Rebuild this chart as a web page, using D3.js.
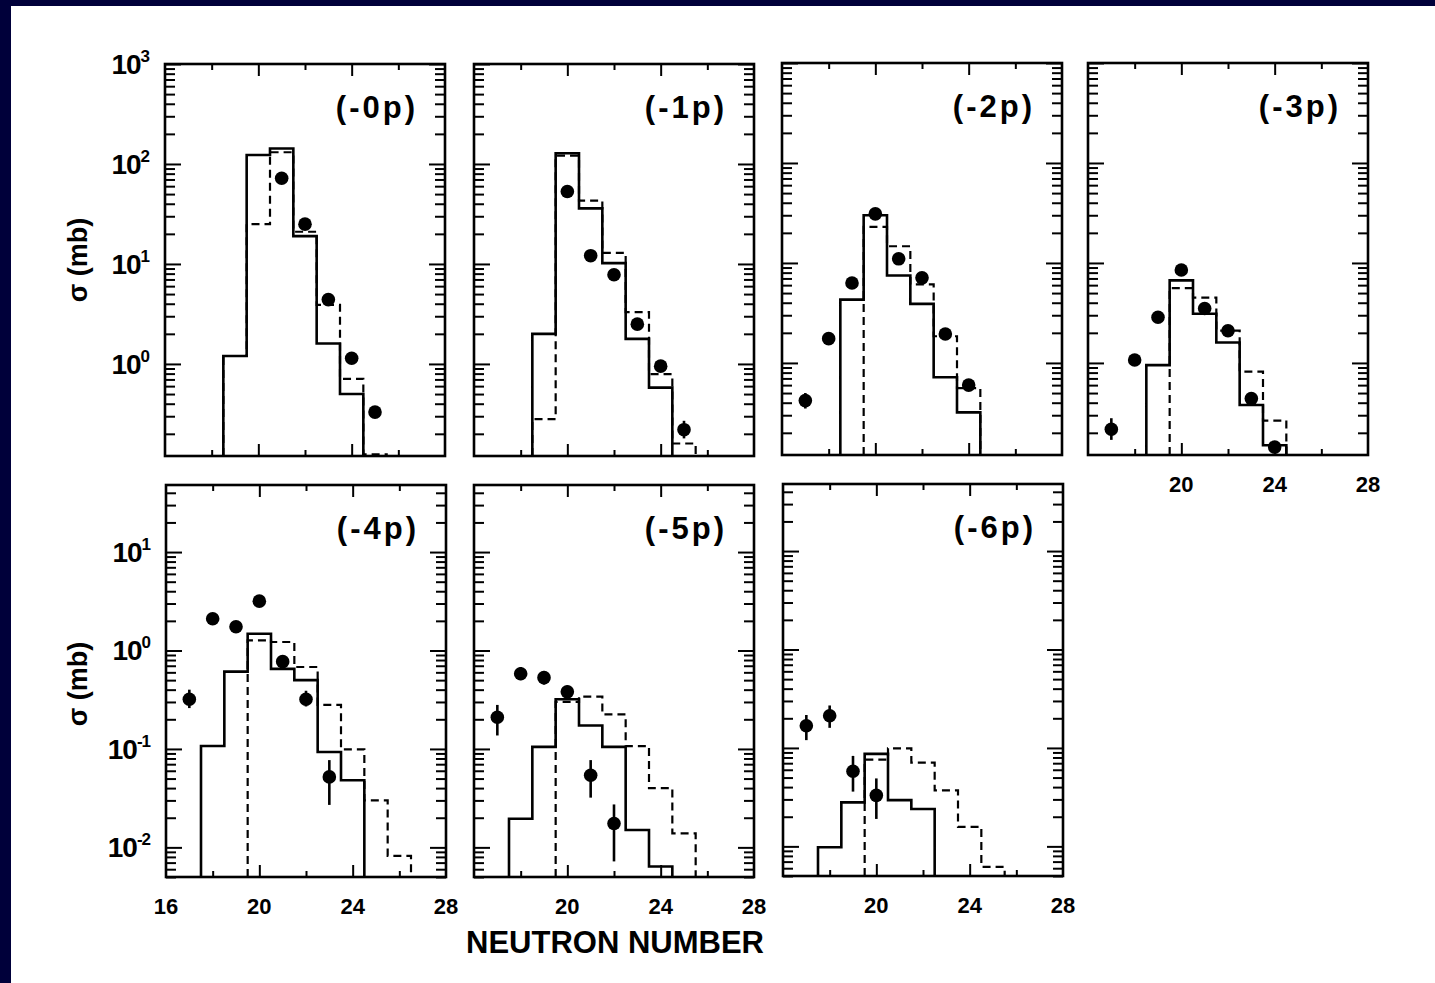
<!DOCTYPE html>
<html><head><meta charset="utf-8">
<script src="https://cdn.jsdelivr.net/npm/d3@7"></script>
<style>
html,body{margin:0;padding:0;background:#00003a;overflow:hidden;}
svg{display:block;}
text{font-family:"Liberation Sans",Arial,Helvetica,sans-serif;font-weight:bold;fill:#000;}
</style></head><body>
<svg id="chart" width="1435" height="983"></svg>
<script>
// ---------------- DATA ----------------
const panelLabels = ["(-0p)", "(-1p)", "(-2p)", "(-3p)", "(-4p)", "(-5p)", "(-6p)"];
const neutronBins = [17, 18, 19, 20, 21, 22, 23, 24, 25, 26];

// calculated cross sections (mb), solid histogram; null = off scale
const solid_0p = [null, null, 1.2, 123, 143, 19, 1.6, 0.5, null, null];
const solid_1p = [null, null, 2.0, 128, 36, 10.2, 1.78, 0.58, null, null];
const solid_2p = [null, null, 4.3, 30, 7.5, 3.9, 0.72, 0.32, null, null];
const solid_3p = [null, null, 0.95, 6.7, 3.1, 1.6, 0.38, 0.15, null, null];
const solid_4p = [null, 0.107, 0.61, 1.48, 0.65, 0.5, 0.093, 0.048, null, null];
const solid_5p = [null, 0.0195, 0.105, 0.32, 0.173, 0.105, 0.015, 0.0064, null, null];
const solid_6p = [null, 0.0098, 0.028, 0.087, 0.0295, 0.024, null, null, null, null];

// calculated cross sections (mb), dashed histogram
const dashed_0p = [null, null, 1.2, 25, 131, 21, 3.9, 0.71, 0.125, null];
const dashed_1p = [null, null, 0.28, 121, 43, 12.9, 3.3, 0.79, 0.16, null];
const dashed_2p = [null, null, null, 23, 14.7, 6.1, 1.85, 0.56, null, null];
const dashed_3p = [null, null, null, 5.6, 4.5, 2.1, 0.82, 0.265, null, null];
const dashed_4p = [null, null, null, 1.27, 1.22, 0.68, 0.28, 0.099, 0.030, 0.0082];
const dashed_5p = [null, null, null, 0.30, 0.34, 0.224, 0.107, 0.040, 0.0139, null];
const dashed_6p = [null, null, null, 0.076, 0.099, 0.071, 0.037, 0.0158, 0.0062, null];

// measured cross sections (mb) with error limits
const expN_0p = [21, 22, 23, 24, 25];
const exp_0p  = [72, 25, 4.4, 1.14, 0.33];
const expLo_0p = [72, 25, 4.4, 1.14, 0.29];
const expHi_0p = [72, 25, 4.4, 1.14, 0.37];

const expN_1p = [20, 21, 22, 23, 24, 25];
const exp_1p  = [53, 12.1, 7.8, 2.5, 0.95, 0.22];
const expLo_1p = [53, 12.1, 7.8, 2.5, 0.85, 0.18];
const expHi_1p = [53, 12.1, 7.8, 2.5, 1.05, 0.27];

const expN_2p = [17, 18, 19, 20, 21, 22, 23, 24];
const exp_2p  = [0.42, 1.75, 6.3, 31, 11, 7.1, 1.95, 0.6];
const expLo_2p = [0.35, 1.75, 6.3, 31, 11, 7.1, 1.95, 0.53];
const expHi_2p = [0.50, 1.75, 6.3, 31, 11, 7.1, 1.95, 0.68];

const expN_3p = [17, 18, 19, 20, 21, 22, 23, 24];
const exp_3p  = [0.217, 1.07, 2.86, 8.5, 3.5, 2.1, 0.44, 0.144];
const expLo_3p = [0.17, 1.0, 2.6, 8.5, 3.5, 2.1, 0.38, 0.13];
const expHi_3p = [0.28, 1.15, 3.1, 8.5, 3.5, 2.1, 0.51, 0.16];

const expN_4p = [17, 18, 19, 20, 21, 22, 23];
const exp_4p  = [0.32, 2.1, 1.74, 3.17, 0.77, 0.32, 0.052];
const expLo_4p = [0.26, 2.1, 1.74, 3.17, 0.70, 0.27, 0.027];
const expHi_4p = [0.40, 2.1, 1.74, 3.17, 0.85, 0.39, 0.077];

const expN_5p = [17, 18, 19, 20, 21, 22];
const exp_5p  = [0.21, 0.58, 0.53, 0.38, 0.054, 0.0175];
const expLo_5p = [0.137, 0.50, 0.45, 0.33, 0.032, 0.0072];
const expHi_5p = [0.28, 0.68, 0.62, 0.44, 0.077, 0.0273];

const expN_6p = [17, 18, 19, 20];
const exp_6p  = [0.168, 0.212, 0.058, 0.033];
const expLo_6p = [0.12, 0.16, 0.036, 0.019];
const expHi_6p = [0.216, 0.27, 0.083, 0.049];

// axis tick labels
const xDomain = [16, 28];
const xMajorTicks = [20, 24];
const xMinorTicks = [18, 22, 26];
const xTickLabelsFirst = [16, 20, 24, 28];
const xTickLabelsOther = [20, 24, 28];
const yDomainTop = [0.12, 1000];
const yDomainBottom = [0.005, 48];
const yTickExpTop = [3, 2, 1, 0];
const yTickExpBottom = [1, 0, -1, -2];
const yTitle = "σ (mb)";
const xTitle = "NEUTRON NUMBER";

// ---------------- LAYOUT ----------------
const panels = [
  {label: panelLabels[0], solid: solid_0p, dashed: dashed_0p, en: expN_0p, ev: exp_0p, lo: expLo_0p, hi: expHi_0p, x0: 165, y0: 64, row: 0},
  {label: panelLabels[1], solid: solid_1p, dashed: dashed_1p, en: expN_1p, ev: exp_1p, lo: expLo_1p, hi: expHi_1p, x0: 474, y0: 64, row: 0},
  {label: panelLabels[2], solid: solid_2p, dashed: dashed_2p, en: expN_2p, ev: exp_2p, lo: expLo_2p, hi: expHi_2p, x0: 782, y0: 63, row: 0},
  {label: panelLabels[3], solid: solid_3p, dashed: dashed_3p, en: expN_3p, ev: exp_3p, lo: expLo_3p, hi: expHi_3p, x0: 1088, y0: 63, row: 0, xLabels: xTickLabelsOther},
  {label: panelLabels[4], solid: solid_4p, dashed: dashed_4p, en: expN_4p, ev: exp_4p, lo: expLo_4p, hi: expHi_4p, x0: 166, y0: 485, row: 1, xLabels: xTickLabelsFirst},
  {label: panelLabels[5], solid: solid_5p, dashed: dashed_5p, en: expN_5p, ev: exp_5p, lo: expLo_5p, hi: expHi_5p, x0: 474, y0: 485, row: 1, xLabels: xTickLabelsOther},
  {label: panelLabels[6], solid: solid_6p, dashed: dashed_6p, en: expN_6p, ev: exp_6p, lo: expLo_6p, hi: expHi_6p, x0: 783, y0: 484, row: 1, xLabels: xTickLabelsOther}
];
const PW = 280, PH = 392;

const svg = d3.select("#chart");
svg.append("rect").attr("x", 11).attr("y", 6).attr("width", 1500).attr("height", 1000).attr("fill", "#fff");

panels.forEach((p, i) => {
  const x = d3.scaleLinear().domain(xDomain).range([0, PW]);
  const y = d3.scaleLog().domain(p.row === 0 ? yDomainTop : yDomainBottom).range([PH, 0]);
  const g = svg.append("g").attr("transform", `translate(${p.x0},${p.y0})`);
  const clipId = "clip" + i;
  g.append("clipPath").attr("id", clipId).append("rect").attr("width", PW).attr("height", PH);

  // ticks
  const yMajors = y.ticks().filter(v => Math.abs(Math.log10(v) - Math.round(Math.log10(v))) < 1e-9);
  const yMinors = y.ticks().filter(v => !yMajors.includes(v));
  const tickStyle = s => s.call(a => a.select(".domain").remove())
                          .call(a => a.selectAll("line").attr("stroke", "#000").attr("stroke-width", 2));
  g.append("g").call(d3.axisLeft(y).tickValues(yMajors).tickSize(-16).tickFormat("")).call(tickStyle);
  g.append("g").call(d3.axisLeft(y).tickValues(yMinors).tickSize(-10).tickFormat("")).call(tickStyle);
  g.append("g").attr("transform", `translate(${PW},0)`).call(d3.axisRight(y).tickValues(yMajors).tickSize(-16).tickFormat("")).call(tickStyle);
  g.append("g").attr("transform", `translate(${PW},0)`).call(d3.axisRight(y).tickValues(yMinors).tickSize(-10).tickFormat("")).call(tickStyle);
  g.append("g").call(d3.axisTop(x).tickValues(xMajorTicks).tickSize(-12).tickFormat("")).call(tickStyle);
  g.append("g").call(d3.axisTop(x).tickValues(xMinorTicks).tickSize(-6).tickFormat("")).call(tickStyle);
  g.append("g").attr("transform", `translate(0,${PH})`).call(d3.axisBottom(x).tickValues(xMajorTicks).tickSize(-12).tickFormat("")).call(tickStyle);
  g.append("g").attr("transform", `translate(0,${PH})`).call(d3.axisBottom(x).tickValues(xMinorTicks).tickSize(-6).tickFormat("")).call(tickStyle);

  // histograms
  const floor = y.domain()[0];
  const stepPoints = vals => {
    const pts = [];
    const idx = vals.map((v, k) => v == null ? -1 : k).filter(k => k >= 0);
    if (!idx.length) return pts;
    pts.push([neutronBins[idx[0]] - 0.5, floor]);
    idx.forEach(k => { pts.push([neutronBins[k] - 0.5, vals[k]]); pts.push([neutronBins[k] + 0.5, vals[k]]); });
    pts.push([neutronBins[idx[idx.length - 1]] + 0.5, floor]);
    return pts;
  };
  const line = d3.line().x(d => x(d[0])).y(d => y(d[1]));
  const plot = g.append("g").attr("clip-path", `url(#${clipId})`);
  plot.append("path").attr("d", line(stepPoints(p.dashed))).attr("fill", "none")
    .attr("stroke", "#000").attr("stroke-width", 2.2).attr("stroke-dasharray", "8,5");
  plot.append("path").attr("d", line(stepPoints(p.solid))).attr("fill", "none")
    .attr("stroke", "#000").attr("stroke-width", 2.6);

  // measured points
  const pts = p.en.map((n, k) => ({n, v: p.ev[k], lo: p.lo[k], hi: p.hi[k]}));
  plot.selectAll(".err").data(pts).enter().append("line")
    .attr("x1", d => x(d.n)).attr("x2", d => x(d.n))
    .attr("y1", d => y(d.lo)).attr("y2", d => y(d.hi))
    .attr("stroke", "#000").attr("stroke-width", 2.6);
  plot.selectAll(".pt").data(pts).enter().append("circle")
    .attr("cx", d => x(d.n)).attr("cy", d => y(d.v)).attr("r", 6.8).attr("fill", "#000");

  // frame
  g.append("rect").attr("width", PW).attr("height", PH).attr("fill", "none")
    .attr("stroke", "#000").attr("stroke-width", 2.6);

  // panel label
  g.append("text").attr("x", PW - 27).attr("y", 54).attr("text-anchor", "end")
    .style("font-size", "31px").style("letter-spacing", "3px").text(p.label);

  // y tick labels on left column
  if (i === 0 || i === 4) {
    const exps = p.row === 0 ? yTickExpTop : yTickExpBottom;
    exps.forEach(e => {
      const t = g.append("text").attr("x", -16).attr("y", y(Math.pow(10, e)) + 10)
        .attr("text-anchor", "end").style("font-size", "28px").style("letter-spacing", "-1px");
      t.append("tspan").text("10");
      t.append("tspan").attr("dy", -12).style("font-size", "17px").text(String(e));
    });
    g.append("text").attr("transform", `translate(${87 - p.x0},${PH / 2 + (p.row === 0 ? 0 : 3)}) rotate(-90)`)
      .attr("text-anchor", "middle").style("font-size", "27px").text(yTitle);
  }
  // x tick labels
  if (p.xLabels) {
    p.xLabels.forEach(v => {
      g.append("text").attr("x", x(v)).attr("y", PH + 37).attr("text-anchor", "middle")
        .style("font-size", "22px").text(v);
    });
  }
});

svg.append("text").attr("x", 615).attr("y", 953).attr("text-anchor", "middle")
  .style("font-size", "31px").text(xTitle);
</script>
</body></html>
